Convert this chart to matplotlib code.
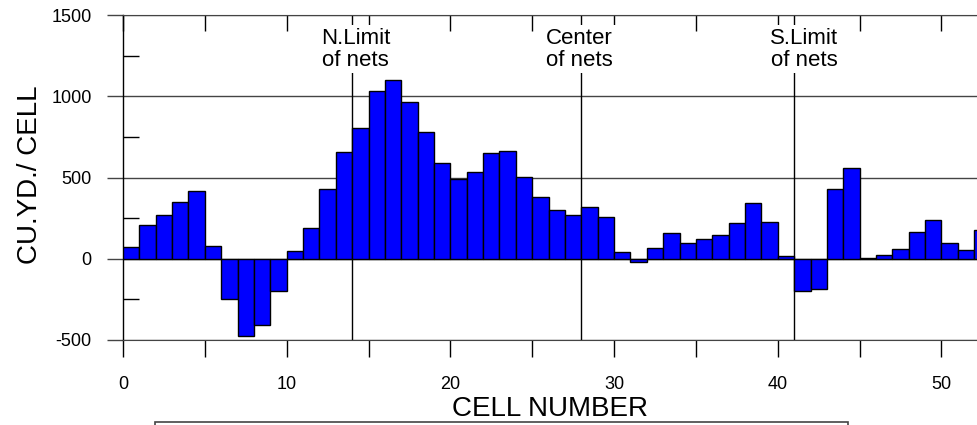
import matplotlib
matplotlib.use("Agg")
import matplotlib.pyplot as plt
import numpy as np
from matplotlib.ticker import MultipleLocator
from matplotlib.patches import Rectangle

plt.rcParams['font.family'] = ['Liberation Sans', 'DejaVu Sans']
plt.rcParams['axes.unicode_minus'] = False

# volume per cell (cu. yd.), cells 0..52
cells = np.arange(53)
volume = [72, 206, 268, 350, 420, 78, -247, -473, -405, -198,
          47, 191, 430, 659, 807, 1033, 1101, 967, 778, 589,
          490, 535, 650, 663, 502, 383, 300, 268, 321, 257,
          41, -21, 66, 156, 97, 121, 144, 220, 342, 226,
          14, -196, -185, 432, 556, 6, 25, 60, 165, 241,
          95, 54, 175]

# marker lines
marker_x = [14, 28, 41]
marker_text = ['N.Limit\nof nets', 'Center\nof nets', 'S.Limit\nof nets']
marker_tx = [14.2, 27.9, 41.6]

fig = plt.figure(figsize=(9.77, 4.25), dpi=100)
ax = fig.add_axes([123 / 977, 1 - 340 / 425, 854 / 977, 325 / 425])

ax.bar(cells, volume, width=1.0, align='edge', color='#0000ff',
       edgecolor='black', linewidth=1.0, zorder=3)

ax.set_xlim(0, 52.17)
ax.set_ylim(-500, 1500)

# horizontal grid at major y ticks
ax.yaxis.set_major_locator(MultipleLocator(500))
ax.yaxis.set_minor_locator(MultipleLocator(250))
ax.grid(axis='y', which='major', color='#444444', linewidth=1.0, zorder=1)

ax.xaxis.set_major_locator(MultipleLocator(10))
ax.xaxis.set_minor_locator(MultipleLocator(5))

ax.tick_params(axis='y', which='major', direction='out', length=11.5, width=1,
               color='#444444', labelsize=13, pad=11)
ax.tick_params(axis='y', which='minor', direction='in', length=11.5, width=1,
               color='black')
ax.tick_params(axis='x', which='both', direction='out', length=12, width=1,
               labelsize=13, pad=14, bottom=True, top=False)

# top ticks pointing in
top = ax.secondary_xaxis('top')
top.xaxis.set_major_locator(MultipleLocator(5))
top.tick_params(direction='in', length=11.5, width=1, labeltop=False)
top.spines['top'].set_visible(False)

ax.spines['right'].set_visible(False)
ax.spines['top'].set_color('#444444')
ax.spines['bottom'].set_color('#444444')
ax.spines['left'].set_linewidth(1.0)

for xv, t, tx in zip(marker_x, marker_text, marker_tx):
    ax.axvline(xv, color='black', linewidth=1.0, zorder=2)
    ax.text(tx, 1290, t, ha='center', va='center', fontsize=16,
            linespacing=1.05, zorder=4,
            bbox=dict(facecolor='white', edgecolor='none', pad=2))

ax.set_xlabel('CELL NUMBER', fontsize=20, va='center')
ax.xaxis.set_label_coords(0.5, -0.213)
ax.set_ylabel('CU.YD./ CELL', fontsize=20, va='center')
ax.yaxis.set_label_coords(-0.109, 0.51)

# frame of the caption box below the chart (cut off in the original)
fig.patches.append(Rectangle((155 / 977, -0.2), (848 - 155) / 977, 0.2 + (1 - 422 / 425),
                             transform=fig.transFigure, fill=False,
                             edgecolor='#444444', linewidth=1.2))

fig.savefig('out.png', dpi=100)
